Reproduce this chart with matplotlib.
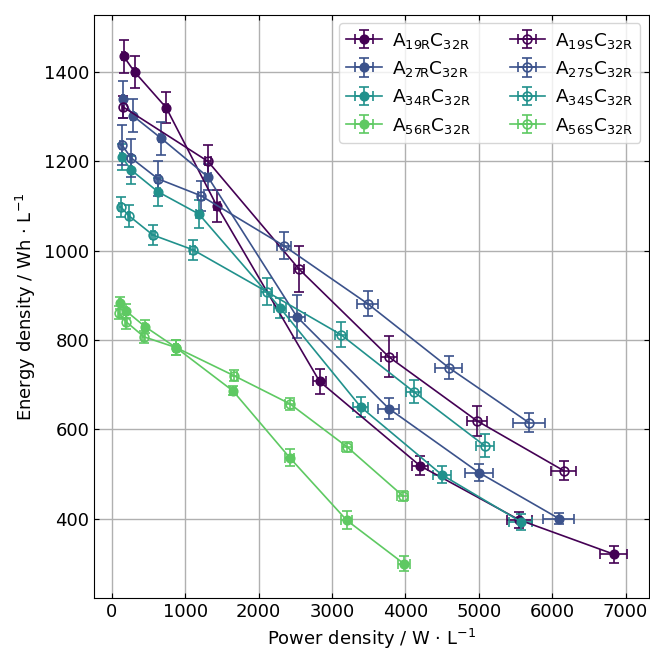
import matplotlib
matplotlib.use("Agg")
import matplotlib.pyplot as plt

colors = ["#440154", "#3b528b", "#21918c", "#5ec962"]

# ---- R series (filled markers) ----
a19r_p = [160, 310, 740, 1430, 2830, 4200, 5550, 6840]
a19r_e = [1435, 1400, 1320, 1100, 707, 518, 397, 320]
a19r_pe = [20, 20, 25, 40, 84, 111, 170, 186]
a19r_ee = [36, 35, 35, 35, 27, 21, 18, 19]

a27r_p = [150, 286, 668, 1308, 2520, 3775, 5000, 6090]
a27r_e = [1339, 1302, 1252, 1165, 852, 646, 503, 400]
a27r_pe = [20, 20, 25, 40, 107, 143, 188, 211]
a27r_ee = [41, 37, 37, 30, 48, 23, 19, 13]

a34r_p = [136, 259, 626, 1185, 2290, 3390, 4495, 5570]
a34r_e = [1210, 1181, 1132, 1082, 872, 650, 498, 393]
a34r_pe = [20, 20, 25, 40, 80, 100, 125, 160]
a34r_ee = [30, 32, 31, 31, 22, 22, 19, 18]

a56r_p = [109, 191, 449, 872, 1648, 2424, 3200, 3977]
a56r_e = [883, 865, 830, 783, 686, 536, 396, 299]
a56r_pe = [15, 15, 20, 30, 40, 60, 75, 80]
a56r_ee = [13, 15, 14, 16, 10, 19, 20, 17]

# ---- S series (open markers) ----
a19s_p = [150, 1308, 2548, 3774, 4973, 6158]
a19s_e = [1322, 1200, 959, 762, 619, 507]
a19s_pe = [20, 40, 73, 109, 141, 170]
a19s_ee = [25, 37, 51, 46, 34, 21]

a27s_p = [136, 259, 626, 1212, 2342, 3486, 4590, 5680]
a27s_e = [1237, 1208, 1161, 1123, 1011, 881, 738, 615]
a27s_pe = [20, 20, 25, 40, 98, 145, 182, 220]
a27s_ee = [45, 43, 39, 34, 30, 28, 25, 22]

a34s_p = [120, 232, 558, 1103, 2110, 3119, 4113, 5080]
a34s_e = [1098, 1078, 1035, 1002, 908, 812, 684, 563]
a34s_pe = [20, 20, 25, 35, 73, 86, 100, 125]
a34s_ee = [23, 24, 22, 22, 30, 28, 26, 26]

a56s_p = [95, 191, 436, 872, 1662, 2424, 3200, 3963]
a56s_e = [861, 841, 807, 783, 720, 657, 561, 451]
a56s_pe = [15, 15, 20, 30, 40, 61, 68, 77]
a56s_ee = [15, 16, 14, 16, 13, 13, 11, 11]

labels_r = [r"$\mathregular{A_{19R}C_{32R}}$", r"$\mathregular{A_{27R}C_{32R}}$",
            r"$\mathregular{A_{34R}C_{32R}}$", r"$\mathregular{A_{56R}C_{32R}}$"]
labels_s = [r"$\mathregular{A_{19S}C_{32R}}$", r"$\mathregular{A_{27S}C_{32R}}$",
            r"$\mathregular{A_{34S}C_{32R}}$", r"$\mathregular{A_{56S}C_{32R}}$"]

series_r = [(a19r_p, a19r_e, a19r_pe, a19r_ee), (a27r_p, a27r_e, a27r_pe, a27r_ee),
            (a34r_p, a34r_e, a34r_pe, a34r_ee), (a56r_p, a56r_e, a56r_pe, a56r_ee)]
series_s = [(a19s_p, a19s_e, a19s_pe, a19s_ee), (a27s_p, a27s_e, a27s_pe, a27s_ee),
            (a34s_p, a34s_e, a34s_pe, a34s_ee), (a56s_p, a56s_e, a56s_pe, a56s_ee)]

plt.rcParams['font.size'] = 13
fig = plt.figure(figsize=(6.5, 6.49), dpi=100)
ax = fig.add_axes([0.1446, 0.0786, 0.8534, 0.8984])

for (p, e, pe, ee), c, lab in zip(series_r, colors, labels_r):
    ax.errorbar(p, e, xerr=pe, yerr=ee, fmt='-o', color=c, ms=6.3, lw=1.2,
                elinewidth=1.2, capsize=3.7, capthick=1.2, label=lab)
for (p, e, pe, ee), c, lab in zip(series_s, colors, labels_s):
    ax.errorbar(p, e, xerr=pe, yerr=ee, fmt='-o', color=c, mfc='none', ms=6.3, lw=1.2,
                mew=1.2, elinewidth=1.2, capsize=3.7, capthick=1.2, label=lab)

ax.set_xlim(-245, 7315)
ax.set_ylim(222, 1528)
ax.set_xticks(range(0, 7001, 1000))
ax.set_yticks(range(400, 1401, 200))
ax.grid(True, color='#b0b0b0', lw=1)
ax.set_axisbelow(True)
ax.tick_params(direction='in', top=True, right=True, labelsize=13)
ax.set_xlabel(r"Power density / W $\cdot$ L$^{-1}$", fontsize=13)
ax.set_ylabel(r"Energy density / Wh $\cdot$ L$^{-1}$", fontsize=13)
ax.legend(ncol=2, loc='upper right', fontsize=13.3, labelspacing=0.45,
          columnspacing=2.1, handlelength=1.9, handletextpad=0.55,
          borderaxespad=0.45)

fig.savefig("out.png", dpi=100)
